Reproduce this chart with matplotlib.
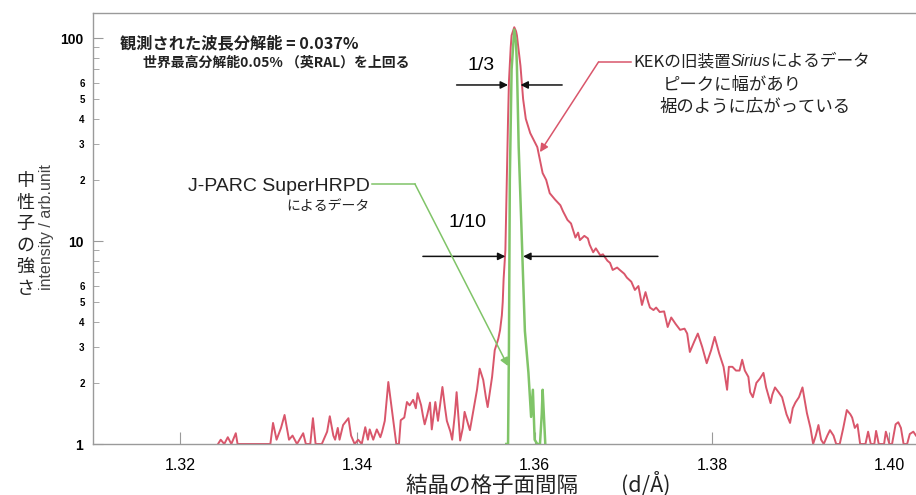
import matplotlib
matplotlib.use("Agg")
import matplotlib.pyplot as plt
from matplotlib.ticker import FixedLocator, FixedFormatter, NullFormatter

plt.rcParams['font.family'] = ['Noto Sans CJK JP', 'DejaVu Sans']

# ---- data (d in Å, intensity in arb. unit) ----
kek_points = [
    (1.3243, 1.0), (1.3246, 1.05), (1.3250, 1.0), (1.3254, 1.08), (1.3258, 1.0), (1.3263, 1.13),
    (1.3265, 1.0), (1.3302, 1.0), (1.3305, 1.27), (1.3309, 1.05), (1.3314, 1.2), (1.3318, 1.39),
    (1.3323, 1.05), (1.3327, 1.1), (1.3332, 1.0), (1.3339, 1.13), (1.3342, 1.0), (1.3347, 1.0),
    (1.3350, 1.34), (1.3353, 1.0), (1.3360, 1.0), (1.3366, 1.15), (1.3369, 1.37), (1.3373, 1.1),
    (1.3375, 1.05), (1.3378, 1.2), (1.3380, 1.05), (1.3384, 1.24), (1.3390, 1.34), (1.3393, 1.1),
    (1.3397, 1.0), (1.3401, 1.05), (1.3405, 1.0), (1.3409, 1.21), (1.3412, 1.05), (1.3414, 1.18),
    (1.3418, 1.05), (1.3422, 1.18), (1.3426, 1.08), (1.3428, 1.15), (1.3431, 1.3), (1.3435, 2.02),
    (1.3438, 1.6), (1.3440, 1.36), (1.3444, 1.0), (1.3447, 1.0), (1.3449, 1.31), (1.3453, 1.35),
    (1.3456, 1.61), (1.3459, 1.55), (1.3463, 1.65), (1.3466, 1.5), (1.3468, 1.78), (1.3472, 1.55),
    (1.3474, 1.38), (1.3476, 1.25), (1.3479, 1.4), (1.3482, 1.6), (1.3484, 1.18), (1.3488, 1.61),
    (1.3491, 1.3), (1.3496, 1.91), (1.3499, 1.5), (1.3501, 1.3), (1.3505, 1.15), (1.3507, 1.05),
    (1.3510, 1.4), (1.3512, 1.8), (1.3516, 1.04), (1.3519, 1.2), (1.3521, 1.44), (1.3525, 1.25),
    (1.3527, 1.17), (1.3531, 1.47), (1.3535, 1.85), (1.3538, 2.35), (1.3542, 2.07), (1.3545, 1.7),
    (1.3547, 1.52), (1.3552, 2.14), (1.3555, 2.9), (1.3559, 3.3), (1.3561, 3.64), (1.3563, 4.3),
    (1.3564, 5.0), (1.3565, 6.5), (1.3567, 9.0), (1.3568, 15.0), (1.3569, 26.0), (1.3570, 40.0),
    (1.3571, 61.0), (1.3573, 90.0), (1.3574, 103.0), (1.3577, 113.0), (1.3579, 108.0), (1.3580, 103.0),
    (1.3584, 73.0), (1.3587, 50.0), (1.3590, 40.0), (1.3595, 34.0), (1.3603, 29.0), (1.3609, 21.6),
    (1.3613, 20.0), (1.3617, 17.2), (1.3623, 16.0), (1.3629, 15.0), (1.3632, 14.0), (1.3637, 12.7),
    (1.3641, 12.2), (1.3646, 10.4), (1.3649, 11.0), (1.3651, 10.1), (1.3656, 10.6), (1.3660, 10.3),
    (1.3662, 9.6), (1.3666, 8.8), (1.3669, 9.2), (1.3674, 8.5), (1.3677, 8.6), (1.3682, 8.0),
    (1.3685, 7.8), (1.3688, 7.2), (1.3693, 7.4), (1.3696, 7.2), (1.3701, 6.9), (1.3704, 6.6),
    (1.3709, 6.3), (1.3713, 5.74), (1.3717, 6.0), (1.3721, 4.84), (1.3725, 5.6), (1.3728, 5.0),
    (1.3730, 4.7), (1.3734, 4.57), (1.3737, 4.7), (1.3741, 4.47), (1.3746, 4.5), (1.3750, 3.77),
    (1.3754, 4.2), (1.3756, 4.08), (1.3759, 3.9), (1.3764, 3.65), (1.3769, 3.7), (1.3772, 3.5),
    (1.3775, 2.84), (1.3780, 3.2), (1.3784, 3.5), (1.3789, 3.0), (1.3794, 2.5), (1.3799, 2.9),
    (1.3803, 3.37), (1.3808, 2.8), (1.3813, 2.4), (1.3817, 1.85), (1.3819, 2.4), (1.3823, 2.4),
    (1.3827, 2.3), (1.3831, 2.3), (1.3834, 2.6), (1.3837, 2.3), (1.3841, 2.14), (1.3843, 1.8),
    (1.3846, 1.7), (1.3850, 2.0), (1.3854, 2.1), (1.3858, 2.24), (1.3861, 1.9), (1.3866, 1.59),
    (1.3868, 1.75), (1.3871, 1.9), (1.3875, 1.8), (1.3879, 1.7), (1.3884, 1.4), (1.3888, 1.27),
    (1.3891, 1.5), (1.3894, 1.6), (1.3898, 1.7), (1.3902, 1.9), (1.3905, 1.6), (1.3907, 1.42),
    (1.3911, 1.2), (1.3914, 1.0), (1.3917, 1.1), (1.3920, 1.24), (1.3923, 1.05), (1.3926, 1.0),
    (1.3930, 1.1), (1.3933, 1.17), (1.3937, 1.1), (1.3940, 1.0), (1.3944, 1.0), (1.3948, 1.2),
    (1.3952, 1.47), (1.3956, 1.4), (1.3958, 1.35), (1.3961, 1.2), (1.3964, 1.25), (1.3967, 1.0),
    (1.3973, 1.0), (1.3976, 1.15), (1.3979, 1.0), (1.3983, 1.0), (1.3985, 1.16), (1.3988, 1.0),
    (1.3994, 1.0), (1.3996, 1.15), (1.4000, 1.0), (1.4003, 1.0), (1.4007, 1.25), (1.4010, 1.28),
    (1.4013, 1.2), (1.4016, 1.0), (1.4020, 1.0), (1.4023, 1.12), (1.4027, 1.15), (1.4030, 1.1),
]
jparc_points = [
    (1.3568, 1.0), (1.3570, 1.0), (1.3571, 3.0), (1.3572, 20.0), (1.3574, 70.0), (1.3577, 110.0),
    (1.3579, 95.0), (1.3580, 73.0), (1.3582, 29.0), (1.3585, 12.0), (1.3587, 6.5), (1.3589, 3.6),
    (1.3593, 2.24), (1.3596, 1.36), (1.3598, 1.85), (1.3600, 1.05), (1.3603, 1.0), (1.3606, 1.0),
    (1.3608, 1.4), (1.3609, 1.85), (1.3612, 1.0),
]
kek_d = [p[0] for p in kek_points]
kek_I = [p[1] for p in kek_points]
jparc_d = [p[0] for p in jparc_points]
jparc_I = [p[1] for p in jparc_points]

x_ticks = [1.32, 1.34, 1.36, 1.38, 1.40]
x_ticklabels = ['1.32', '1.34', '1.36', '1.38', '1.40']
y_major = [1, 10, 100]
y_major_labels = ['1', '10', '100']
y_minor = [2, 3, 4, 5, 6, 7, 8, 9, 20, 30, 40, 50, 60, 70, 80, 90]
y_minor_labels = ['2', '3', '4', '5', '6', '', '', '', '2', '3', '4', '5', '6', '', '', '']

RED = '#d9566b'
GREEN = '#80c468'
SPINE = '#9a9a9a'
LATIN = ['Liberation Sans', 'DejaVu Sans']
JP = ['Noto Sans CJK JP', 'DejaVu Sans']

fig = plt.figure(figsize=(9.16, 4.95), dpi=100)
ax = fig.add_axes([93 / 916, 51 / 495, 1 - 93 / 916, 431 / 495])
ax.set_yscale('log')
ax.set_xlim(1.3102, 1.4030)
ax.set_ylim(1, 132.8)

ax.plot(kek_d, kek_I, color=RED, lw=1.4, zorder=2)
ax.plot(jparc_d, jparc_I, color=GREEN, lw=1.8, zorder=3)

for s in ['top', 'left', 'bottom']:
    ax.spines[s].set_color(SPINE)
    ax.spines[s].set_linewidth(1.0)
ax.spines['right'].set_visible(False)

ax.yaxis.set_major_locator(FixedLocator(y_major))
ax.yaxis.set_major_formatter(FixedFormatter(y_major_labels))
ax.yaxis.set_minor_locator(FixedLocator(y_minor))
ax.yaxis.set_minor_formatter(FixedFormatter(y_minor_labels))
ax.tick_params(axis='y', which='major', direction='in', length=7, color=SPINE, pad=7,
               labelsize=10)
ax.tick_params(axis='y', which='minor', direction='in', length=4, color=SPINE, pad=6,
               labelsize=7)
for t in ax.get_yticklabels(which='both'):
    t.set_fontfamily(LATIN)
    t.set_fontweight('bold')

ax.set_xticks(x_ticks)
ax.set_xticklabels(x_ticklabels, fontfamily=LATIN, fontsize=11.5)
ax.tick_params(axis='x', which='major', direction='in', length=9, color=SPINE, pad=10)
ax.xaxis.set_minor_formatter(NullFormatter())
ax.tick_params(axis='x', which='minor', length=0)

# ---- labels ----
fig.text(538 / 916, 1 - 484 / 495, '結晶の格子面間隔　　(d/Å)', fontsize=15.5,
         ha='center', va='center', family=JP, color='#222222')
fig.text(25 / 916, 1 - 235 / 495, '\n'.join('中性子の強さ'), fontsize=13,
         ha='center', va='center', family=JP, linespacing=1.25, color='#222222')
fig.text(47 / 916, 1 - 227 / 495, 'intensity / arb.unit', fontsize=11.5, rotation=90,
         ha='center', va='center', family=LATIN, color='#444444')

# ---- annotations ----
ax.text(1.3132, 94.5, '観測された波長分解能 = 0.037%', fontsize=11.7, family=JP,
        fontweight='bold', ha='left', va='center', color='#222222')
ax.text(1.3158, 76, '世界最高分解能0.05% （英RAL）を上回る', fontsize=10, family=JP,
        fontweight='bold', ha='left', va='center', color='#222222')

arrow = dict(arrowstyle='-|>', color='#111111', lw=1.1, mutation_scale=11,
             shrinkA=0, shrinkB=0)
ax.text(1.3540, 73.6, '1/3', fontsize=14, family=LATIN, ha='center', va='center')
ax.annotate('', xy=(1.3570, 58.7), xytext=(1.3512, 58.7), arrowprops=arrow)
ax.annotate('', xy=(1.3584, 58.7), xytext=(1.3631, 58.7), arrowprops=arrow)

ax.text(1.3524, 12.4, '1/10', fontsize=14, family=LATIN, ha='center', va='center')
ax.annotate('', xy=(1.3567, 8.4), xytext=(1.3474, 8.4), arrowprops=arrow)
ax.annotate('', xy=(1.3587, 8.4), xytext=(1.3739, 8.4), arrowprops=arrow)

# KEK annotation
t1 = ax.text(1.3711, 76.2, 'KEKの旧装置', fontsize=12, family=JP, ha='left', va='center',
             color='#222222')
t2 = ax.annotate('Sirius', xy=(1, 0.5), xycoords=t1, fontsize=11.5, family=LATIN,
                 style='italic', ha='left', va='center', color='#222222')
t3 = ax.annotate('によるデータ', xy=(1, 0.5), xycoords=t2, fontsize=12, family=JP,
                 ha='left', va='center', color='#222222')
ax.text(1.3744, 58.7, 'ピークに幅があり', fontsize=12.5, family=JP, ha='left', va='center',
        color='#222222')
ax.text(1.3741, 45.7, '裾のように広がっている', fontsize=12.5, family=JP, ha='left', va='center',
        color='#222222')
ax.plot([1.3709, 1.3672], [76.2, 76.2], color=RED, lw=1.1)
ax.annotate('', xy=(1.3606, 27.4), xytext=(1.3672, 76.2),
            arrowprops=dict(arrowstyle='-|>', color=RED, lw=1.1, mutation_scale=12,
                            shrinkA=0, shrinkB=0))

# J-PARC annotation
ax.text(1.3414, 18.5, 'J-PARC SuperHRPD', fontsize=14, family=LATIN, ha='right', va='center',
        color='#222222')
ax.text(1.3414, 14.9, 'によるデータ', fontsize=10, family=JP, ha='right', va='center',
        color='#222222')
ax.plot([1.3417, 1.3465], [19.1, 19.1], color=GREEN, lw=1.1)
ax.annotate('', xy=(1.3570, 2.42), xytext=(1.3465, 19.1),
            arrowprops=dict(arrowstyle='-|>', color=GREEN, lw=1.1, mutation_scale=12,
                            shrinkA=0, shrinkB=0))

fig.savefig('out.png', dpi=100)
